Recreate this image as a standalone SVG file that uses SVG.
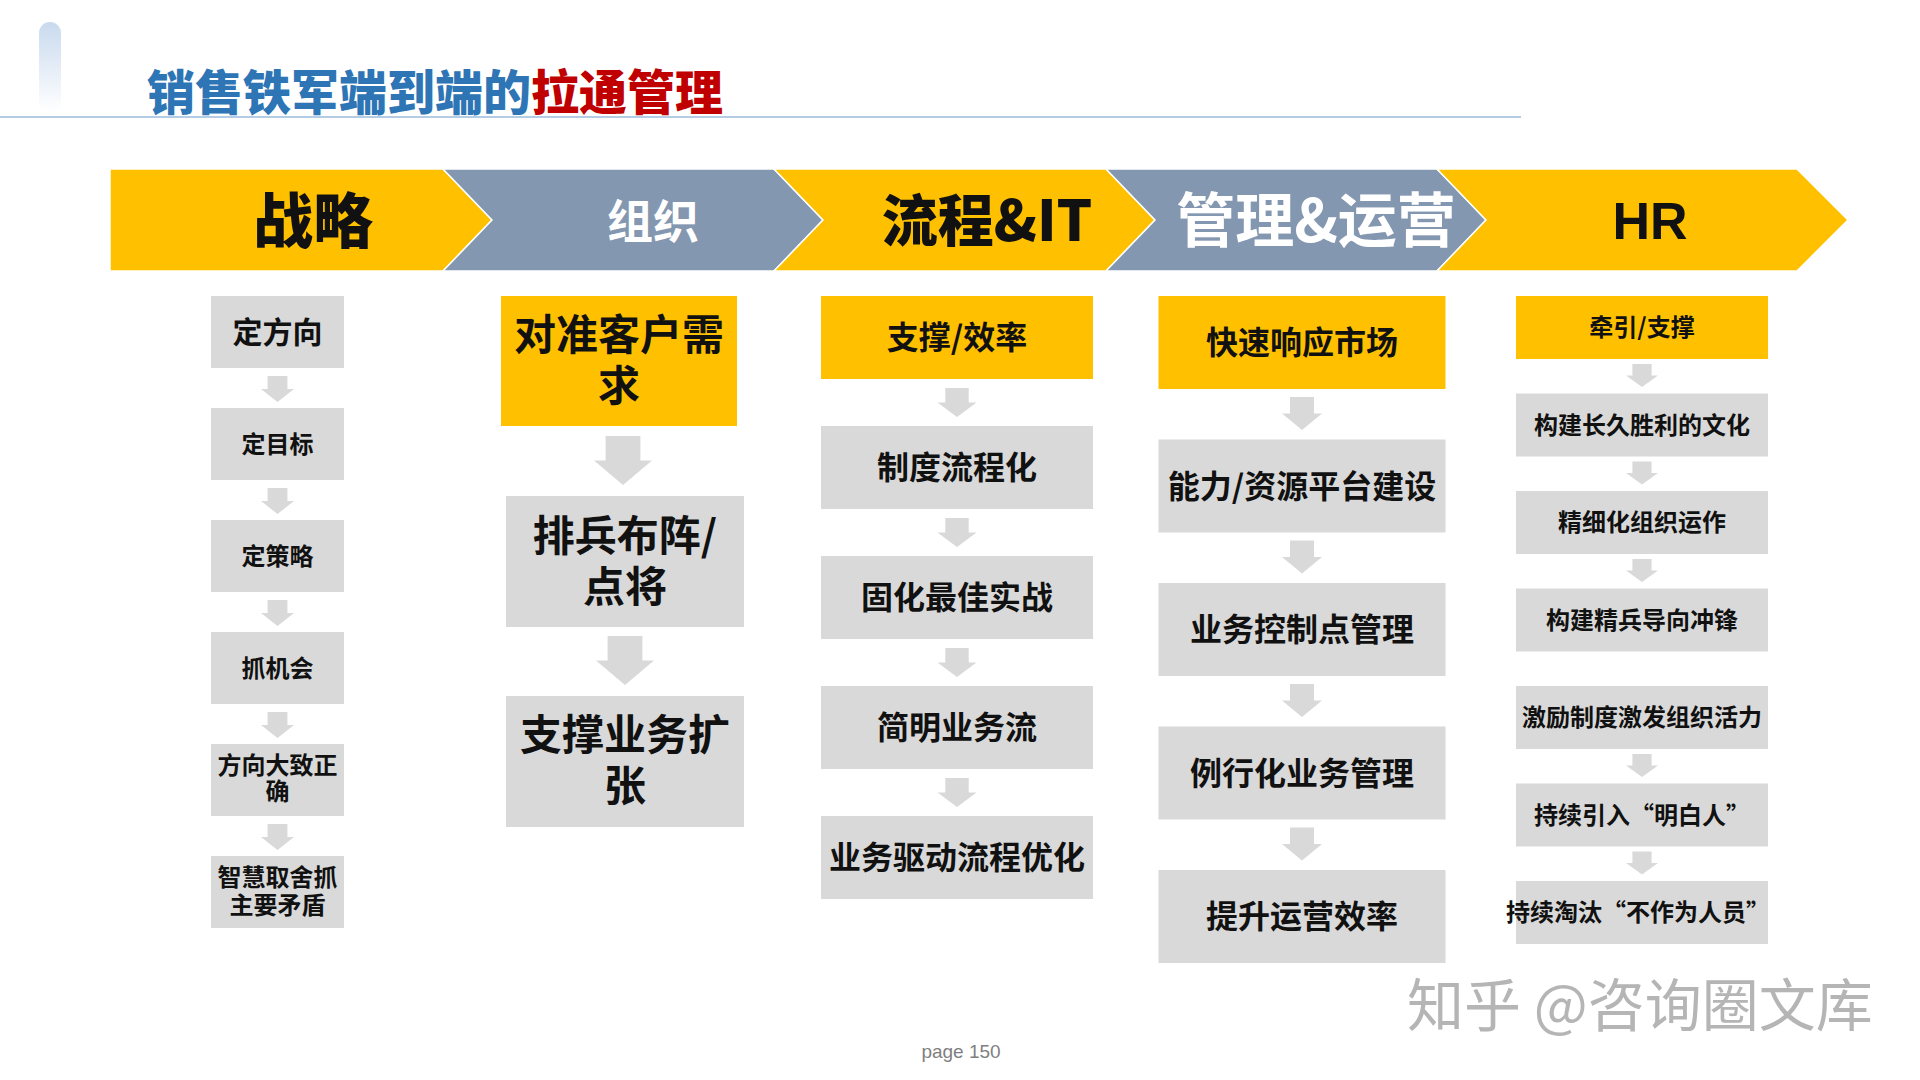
<svg xmlns="http://www.w3.org/2000/svg" xmlns:xlink="http://www.w3.org/1999/xlink" width="1920" height="1080" viewBox="0 0 1920 1080">
<defs>
<linearGradient id="deco" x1="0" y1="0" x2="0" y2="1">
<stop offset="0" stop-color="#C9DAEE"/>
<stop offset="1" stop-color="#FFFFFF"/>
</linearGradient>
<path id="arr" d="M-0.3,0 L0.3,0 L0.3,0.5 L0.5,0.5 L0,1 L-0.5,0.5 L-0.3,0.5 Z"/>
</defs>
<style>
text{font-family:"Noto Sans CJK SC","Noto Sans",sans-serif;font-weight:700;text-anchor:middle;fill:#111}
.yel{fill:#FFC000}
.gry{fill:#D9D9D9}
.seg{stroke:#FFFFFF;stroke-width:1.5}
.sy{fill:#FFC000}
.sb{fill:#8497B0}
.arrow{fill:#D9D9D9}
.c1{font-size:24px}
.c2{font-size:42px}
.c3{font-size:32px}
.c5{font-size:24px}
</style>
<rect width="1920" height="1080" fill="#FFFFFF"/>
<g id="header">
<rect x="39" y="22" width="22" height="90" rx="11" fill="url(#deco)"/>
<line x1="0" y1="117" x2="1521" y2="117" stroke="#B4CDE4" stroke-width="2"/>
<text x="147" y="110" style="text-anchor:start;font-size:48px;font-weight:900"><tspan fill="#2E75B6">销售铁军端到端的</tspan><tspan fill="#C00000">拉通管理</tspan></text>
</g>
<g id="banner">
<g id="stage-strategy"><polygon class="seg sy" points="110,169 443,169 492,220 443,271 110,271"/><text x="313" y="243" style="font-size:60px;font-weight:900">战略</text></g>
<g id="stage-org"><polygon class="seg sb" points="443,169 774,169 823,220 774,271 443,271 492,220"/><text x="653" y="238" style="font-size:46px;fill:#FFFFFF">组织</text></g>
<g id="stage-process"><polygon class="seg sy" points="774,169 1106,169 1155,220 1106,271 774,271 823,220"/><text x="987" y="241" style="font-size:56px;font-weight:900">流程&amp;IT</text></g>
<g id="stage-mgmt"><polygon class="seg sb" points="1106,169 1437,169 1486,220 1437,271 1106,271 1155,220"/><text x="1316" y="242" style="font-size:59px;fill:#FFFFFF">管理&amp;运营</text></g>
<g id="stage-hr"><polygon class="seg sy" points="1437,169 1797,169 1848,220 1797,271 1437,271 1486,220"/><text x="1650" y="239" style="font-size:52px;font-family:'Liberation Sans','Noto Sans',sans-serif">HR</text></g>
</g>
<g id="connectors">
<use xlink:href="#arr" class="arrow" transform="translate(277.5,376) scale(33,26)"/>
<use xlink:href="#arr" class="arrow" transform="translate(277.5,488) scale(33,26)"/>
<use xlink:href="#arr" class="arrow" transform="translate(277.5,600) scale(33,26)"/>
<use xlink:href="#arr" class="arrow" transform="translate(277.5,712) scale(33,26)"/>
<use xlink:href="#arr" class="arrow" transform="translate(277.5,824) scale(33,26)"/>
<use xlink:href="#arr" class="arrow" transform="translate(623,436) scale(58,49)"/>
<use xlink:href="#arr" class="arrow" transform="translate(625,636) scale(58,49)"/>
<use xlink:href="#arr" class="arrow" transform="translate(957,388) scale(39,29)"/>
<use xlink:href="#arr" class="arrow" transform="translate(957,518) scale(39,29)"/>
<use xlink:href="#arr" class="arrow" transform="translate(957,648) scale(39,29)"/>
<use xlink:href="#arr" class="arrow" transform="translate(957,778) scale(39,29)"/>
<use xlink:href="#arr" class="arrow" transform="translate(1302,397) scale(40,33)"/>
<use xlink:href="#arr" class="arrow" transform="translate(1302,540.5) scale(40,33)"/>
<use xlink:href="#arr" class="arrow" transform="translate(1302,684) scale(40,33)"/>
<use xlink:href="#arr" class="arrow" transform="translate(1302,827.5) scale(40,33)"/>
<use xlink:href="#arr" class="arrow" transform="translate(1642,364) scale(32,23)"/>
<use xlink:href="#arr" class="arrow" transform="translate(1642,461.5) scale(32,23)"/>
<use xlink:href="#arr" class="arrow" transform="translate(1642,559) scale(32,23)"/>
<use xlink:href="#arr" class="arrow" transform="translate(1642,754) scale(32,23)"/>
<use xlink:href="#arr" class="arrow" transform="translate(1642,851.5) scale(32,23)"/>
</g>
<g id="col-strategy">
<g id="s1"><rect class="gry" x="211" y="296" width="133" height="72"/><text x="277.5" y="343" style="font-size:30px">定方向</text></g>
<g id="s2"><rect class="gry" x="211" y="408" width="133" height="72"/><text class="c1" x="277.5" y="453">定目标</text></g>
<g id="s3"><rect class="gry" x="211" y="520" width="133" height="72"/><text class="c1" x="277.5" y="565">定策略</text></g>
<g id="s4"><rect class="gry" x="211" y="632" width="133" height="72"/><text class="c1" x="277.5" y="677">抓机会</text></g>
<g id="s5"><rect class="gry" x="211" y="744" width="133" height="72"/><text class="c1" x="277.5" y="774">方向大致正</text><text class="c1" x="277.5" y="800">确</text></g>
<g id="s6"><rect class="gry" x="211" y="856" width="133" height="72"/><text class="c1" x="277.5" y="886">智慧取舍抓</text><text class="c1" x="277.5" y="914">主要矛盾</text></g>
</g>
<g id="col-org">
<g id="o1"><rect class="yel" x="501" y="296" width="236" height="130"/><text class="c2" x="619" y="350">对准客户需</text><text class="c2" x="619" y="401">求</text></g>
<g id="o2"><rect class="gry" x="506" y="496" width="238" height="131"/><text class="c2" x="625" y="551">排兵布阵/</text><text class="c2" x="625" y="602">点将</text></g>
<g id="o3"><rect class="gry" x="506" y="696" width="238" height="131"/><text class="c2" x="625" y="750">支撑业务扩</text><text class="c2" x="625" y="801">张</text></g>
</g>
<g id="col-process">
<g id="p1"><rect class="yel" x="821" y="296" width="272" height="83"/><text class="c3" x="957" y="349">支撑/效率</text></g>
<g id="p2"><rect class="gry" x="821" y="426" width="272" height="83"/><text class="c3" x="957" y="479">制度流程化</text></g>
<g id="p3"><rect class="gry" x="821" y="556" width="272" height="83"/><text class="c3" x="957" y="609">固化最佳实战</text></g>
<g id="p4"><rect class="gry" x="821" y="686" width="272" height="83"/><text class="c3" x="957" y="739">简明业务流</text></g>
<g id="p5"><rect class="gry" x="821" y="816" width="272" height="83"/><text class="c3" x="957" y="869">业务驱动流程优化</text></g>
</g>
<g id="col-mgmt">
<g id="m1"><rect class="yel" x="1158.5" y="296" width="287" height="93"/><text class="c3" x="1302" y="354">快速响应市场</text></g>
<g id="m2"><rect class="gry" x="1158.5" y="439.5" width="287" height="93"/><text class="c3" x="1302" y="497.5">能力/资源平台建设</text></g>
<g id="m3"><rect class="gry" x="1158.5" y="583" width="287" height="93"/><text class="c3" x="1302" y="641">业务控制点管理</text></g>
<g id="m4"><rect class="gry" x="1158.5" y="726.5" width="287" height="93"/><text class="c3" x="1302" y="784.5">例行化业务管理</text></g>
<g id="m5"><rect class="gry" x="1158.5" y="870" width="287" height="93"/><text class="c3" x="1302" y="928">提升运营效率</text></g>
</g>
<g id="col-hr">
<g id="h1"><rect class="yel" x="1516" y="296" width="252" height="63"/><text class="c5" x="1642" y="336">牵引/支撑</text></g>
<g id="h2"><rect class="gry" x="1516" y="393.5" width="252" height="63"/><text class="c5" x="1642" y="434">构建长久胜利的文化</text></g>
<g id="h3"><rect class="gry" x="1516" y="491" width="252" height="63"/><text class="c5" x="1642" y="531">精细化组织运作</text></g>
<g id="h4"><rect class="gry" x="1516" y="588.5" width="252" height="63"/><text class="c5" x="1642" y="629">构建精兵导向冲锋</text></g>
<g id="h5"><rect class="gry" x="1516" y="686" width="252" height="63"/><text class="c5" x="1642" y="726">激励制度激发组织活力</text></g>
<g id="h6"><rect class="gry" x="1516" y="783.5" width="252" height="63"/><text class="c5" x="1642" y="824">持续引入“明白人”</text></g>
<g id="h7"><rect class="gry" x="1516" y="881" width="252" height="63"/><text class="c5" x="1638" y="921">持续淘汰“不作为人员”</text></g>
</g>
<g id="footer">
<text x="1407" y="1026" style="text-anchor:start;font-size:57px;font-weight:400;fill:#B5B5B5">知乎 @咨询圈文库</text>
<text x="961" y="1058" style="font-family:'Liberation Sans',sans-serif;font-size:19px;font-weight:400;fill:#7F7F7F">page 150</text>
</g>
</svg>
